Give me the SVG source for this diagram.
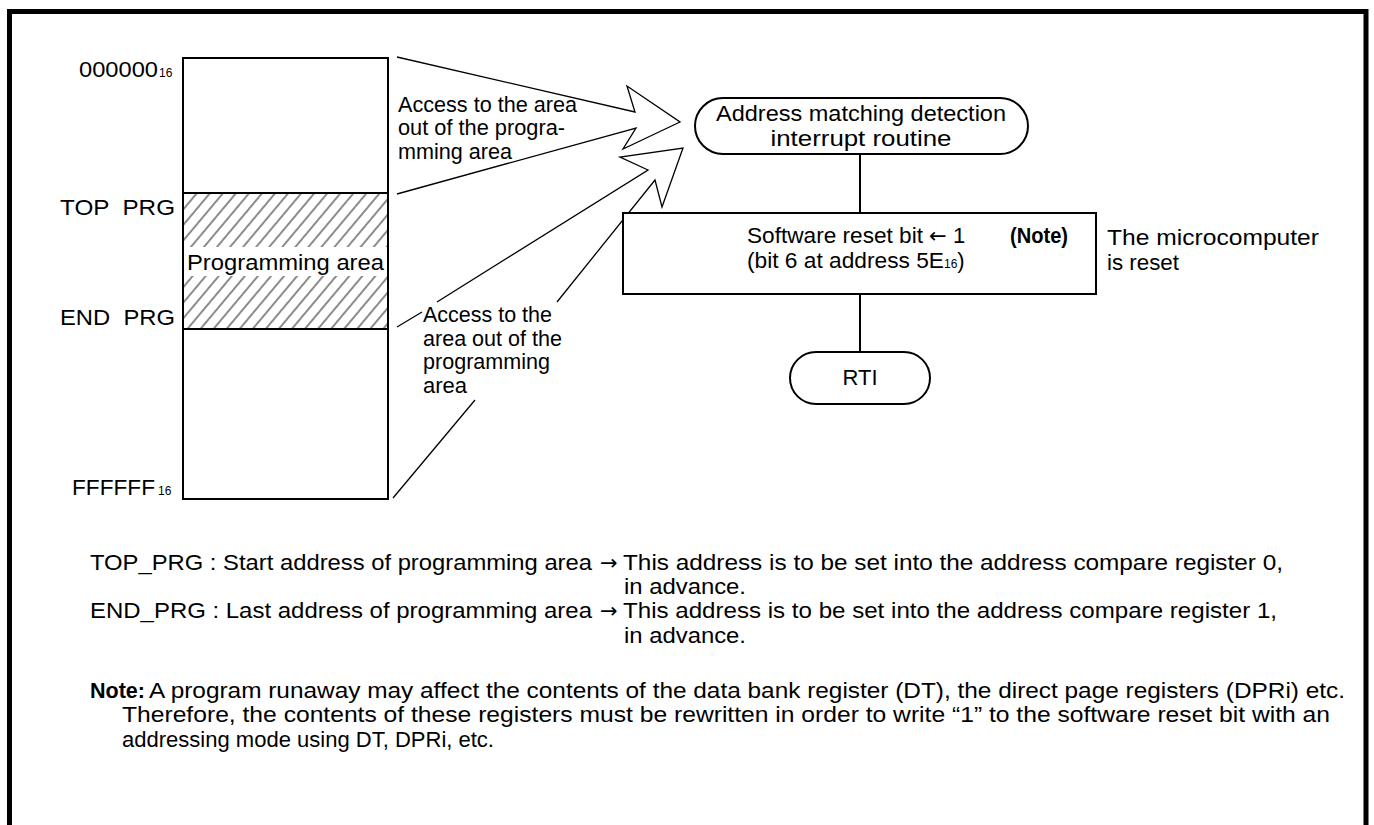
<svg xmlns="http://www.w3.org/2000/svg" width="1374" height="825" viewBox="0 0 1374 825">
<defs>
<pattern id="hatch" patternUnits="userSpaceOnUse" width="10" height="10" patternTransform="rotate(40)">
<line x1="5" y1="-1" x2="5" y2="11" stroke="#8c8c8c" stroke-width="2"/>
</pattern>
<style>
text{font-family:"Liberation Sans",Arial,sans-serif;font-size:22px;fill:#000}
.sub{font-size:12px}
.b{font-weight:bold}
.arw{font-family:"DejaVu Sans",sans-serif;font-size:21px}
.box{fill:#fff;stroke:#000;stroke-width:2}
.ln{fill:none;stroke:#000;stroke-width:1.3;stroke-linejoin:miter}
.fl{fill:none;stroke:#000;stroke-width:2}
</style>
</defs>
<rect width="1374" height="825" fill="#fff"/>
<path d="M9.5,825 V11.5 H1366 V825" fill="none" stroke="#000" stroke-width="5"/>

<g id="memory-map">
<rect x="183" y="58" width="205" height="441" class="box"/>
<rect x="184" y="193" width="203" height="136" fill="url(#hatch)"/>
<rect x="184" y="247" width="203" height="29" fill="#fff"/>
<line x1="183" y1="193" x2="388" y2="193" stroke="#000" stroke-width="2"/>
<line x1="183" y1="329" x2="388" y2="329" stroke="#000" stroke-width="2"/>
<text x="187" y="270" textLength="197" lengthAdjust="spacingAndGlyphs">Programming area</text>
</g>

<g id="labels">
<text x="79" y="77" textLength="79" lengthAdjust="spacingAndGlyphs">000000</text><text class="sub" x="159" y="77">16</text>
<text x="60" y="215" textLength="115" lengthAdjust="spacingAndGlyphs" xml:space="preserve">TOP  PRG</text>
<text x="60" y="325" textLength="115" lengthAdjust="spacingAndGlyphs" xml:space="preserve">END  PRG</text>
<text x="72" y="495" textLength="83" lengthAdjust="spacingAndGlyphs">FFFFFF</text><text class="sub" x="158" y="495">16</text>
</g>

<g id="access-label-1">
<text x="398" y="112" textLength="179" lengthAdjust="spacingAndGlyphs">Access to the area</text>
<text x="398" y="135" textLength="167" lengthAdjust="spacingAndGlyphs">out of the progra-</text>
<text x="398" y="159" textLength="114" lengthAdjust="spacingAndGlyphs">mming area</text>
</g>

<g id="access-label-2">
<text x="423" y="322" textLength="129" lengthAdjust="spacingAndGlyphs">Access to the</text>
<text x="423" y="345.5" textLength="139" lengthAdjust="spacingAndGlyphs">area out of the</text>
<text x="423" y="369" textLength="127" lengthAdjust="spacingAndGlyphs">programming</text>
<text x="423" y="392.5" textLength="44" lengthAdjust="spacingAndGlyphs">area</text>
</g>

<g id="connectors">
<polyline class="ln" points="397,57 635,112 627,86 680,122 623,149 636,128 397,194"/>
<polyline class="ln" points="437,302 648,170 620,157 683,148 662,207 655,180 557,302"/>
<line class="ln" x1="422" y1="312" x2="397" y2="327"/>
<line class="ln" x1="475" y1="400" x2="393" y2="498"/>
<line class="fl" x1="860" y1="154" x2="860" y2="213"/>
<line class="fl" x1="860" y1="294" x2="860" y2="352"/>
</g>

<g id="start-terminal">
<rect x="695" y="98" width="333" height="56" rx="28" ry="28" class="box"/>
<text x="861" y="121" text-anchor="middle" textLength="290" lengthAdjust="spacingAndGlyphs">Address matching detection</text>
<text x="861" y="146" text-anchor="middle" textLength="181" lengthAdjust="spacingAndGlyphs">interrupt routine</text>
</g>

<g id="reset-box">
<rect x="623" y="213" width="473" height="81" class="box"/>
<text x="747" y="243" textLength="176" lengthAdjust="spacingAndGlyphs">Software reset bit</text>
<text x="929" y="243" class="arw">←</text>
<text x="953" y="243">1</text>
<text x="1010" y="243" class="b" textLength="58" lengthAdjust="spacingAndGlyphs">(Note)</text>
<text x="747" y="268"><tspan textLength="197" lengthAdjust="spacingAndGlyphs">(bit 6 at address 5E</tspan><tspan class="sub">16</tspan><tspan>)</tspan></text>
</g>

<g id="reset-note">
<text x="1107" y="245" textLength="212" lengthAdjust="spacingAndGlyphs">The microcomputer</text>
<text x="1107" y="270" textLength="72" lengthAdjust="spacingAndGlyphs">is reset</text>
</g>

<g id="rti-terminal">
<rect x="790" y="352" width="140" height="52" rx="26" ry="26" class="box"/>
<text x="860" y="385" text-anchor="middle">RTI</text>
</g>

<g id="footnotes">
<text x="90" y="570" textLength="502" lengthAdjust="spacingAndGlyphs">TOP_PRG : Start address of programming area</text>
<text x="600" y="570" class="arw">→</text>
<text x="623" y="570" textLength="660" lengthAdjust="spacingAndGlyphs">This address is to be set into the address compare register 0,</text>
<text x="624" y="594" textLength="122" lengthAdjust="spacingAndGlyphs">in advance.</text>
<text x="90" y="618" textLength="502" lengthAdjust="spacingAndGlyphs">END_PRG : Last address of programming area</text>
<text x="600" y="618" class="arw">→</text>
<text x="623" y="618" textLength="654" lengthAdjust="spacingAndGlyphs">This address is to be set into the address compare register 1,</text>
<text x="624" y="643" textLength="122" lengthAdjust="spacingAndGlyphs">in advance.</text>
<text x="90" y="698" class="b" textLength="55" lengthAdjust="spacingAndGlyphs">Note:</text>
<text x="149" y="698" textLength="1196" lengthAdjust="spacingAndGlyphs">A program runaway may affect the contents of the data bank register (DT), the direct page registers (DPRi) etc.</text>
<text x="122" y="722" textLength="1208" lengthAdjust="spacingAndGlyphs">Therefore, the contents of these registers must be rewritten in order to write “1” to the software reset bit with an</text>
<text x="122" y="747" textLength="372" lengthAdjust="spacingAndGlyphs">addressing mode using DT, DPRi, etc.</text>
</g>
</svg>
